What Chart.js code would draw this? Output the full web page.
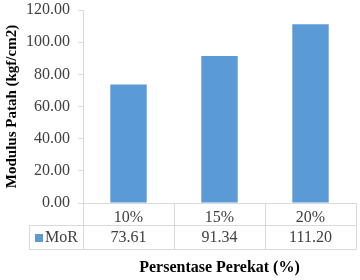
<!DOCTYPE html>
<html>
<head>
<meta charset="utf-8">
<script src="https://cdn.jsdelivr.net/npm/chart.js@4/dist/chart.umd.min.js"></script>
<style>
  html, body { margin: 0; padding: 0; background: #fff; }
  #wrap { width: 360px; height: 280px; position: relative; }
</style>
</head>
<body>
<div id="wrap"><canvas id="chart"></canvas></div>
<script>
  const categories = ["10%", "15%", "20%"];
  const seriesName = "MoR";
  const morValues = [73.61, 91.34, 111.20];
  const valueLabels = ["73.61", "91.34", "111.20"];

  const BAR_COLOR  = "#5B9BD5";
  const LINE_COLOR = "#D9D9D9";
  const TEXT_COLOR = "#404040";
  const SERIF      = "'Liberation Serif', 'Times New Roman', serif";

  // draws the Excel-like data table under the x axis
  const dataTablePlugin = {
    id: "dataTable",
    afterDraw(chart) {
      const ctx = chart.ctx;
      const area = chart.chartArea;
      const xScale = chart.scales.x;
      const catW = (area.right - area.left) / categories.length;
      const top = area.bottom;
      const mid = top + 22;
      const bottom = mid + 24;
      const legendLeft = 29.5;

      ctx.save();
      ctx.strokeStyle = LINE_COLOR;
      ctx.lineWidth = 1;
      ctx.beginPath();
      ctx.moveTo(legendLeft, Math.round(mid) + 0.5);
      ctx.lineTo(area.right, Math.round(mid) + 0.5);
      ctx.moveTo(legendLeft, Math.round(bottom) + 0.5);
      ctx.lineTo(area.right, Math.round(bottom) + 0.5);
      ctx.moveTo(legendLeft, Math.round(mid) + 0.5);
      ctx.lineTo(legendLeft, Math.round(bottom) + 0.5);
      for (let i = 0; i <= categories.length; i++) {
        const x = Math.round(area.left + i * catW) + 0.5;
        ctx.moveTo(x, top);
        ctx.lineTo(x, Math.round(bottom) + 0.5);
      }
      ctx.stroke();

      const rowY = (mid + bottom) / 2 + 1;
      ctx.fillStyle = BAR_COLOR;
      ctx.fillRect(35, rowY - 4, 8, 8);

      ctx.fillStyle = TEXT_COLOR;
      ctx.font = "16px " + SERIF;
      ctx.textBaseline = "middle";
      ctx.textAlign = "left";
      ctx.fillText(seriesName, 45, rowY);
      ctx.textAlign = "center";
      valueLabels.forEach((v, i) => {
        ctx.fillText(v, xScale.getPixelForValue(i), rowY);
      });
      ctx.restore();
    },
  };

  new Chart(document.getElementById("chart"), {
    type: "bar",
    data: {
      labels: categories,
      datasets: [
        {
          label: seriesName,
          data: morValues,
          backgroundColor: BAR_COLOR,
          borderWidth: 0,
          categoryPercentage: 1,
          barPercentage: 0.4,
        },
      ],
    },
    options: {
      responsive: true,
      maintainAspectRatio: false,
      devicePixelRatio: 1,
      animation: false,
      layout: { padding: { top: 10, right: 4, left: 0, bottom: 0 } },
      plugins: {
        legend: { display: false },
        tooltip: { enabled: false },
      },
      scales: {
        x: {
          grid: { display: false },
          border: { color: LINE_COLOR },
          ticks: {
            color: TEXT_COLOR,
            padding: -3,
            font: { family: SERIF, size: 16 },
          },
          title: {
            display: true,
            text: "Persentase Perekat (%)",
            color: "#000",
            font: { family: SERIF, size: 16, weight: "bold" },
            padding: { top: 0, bottom: 3 },
          },
          afterFit(scale) { scale.height = 77; },
        },
        y: {
          min: 0,
          max: 120,
          grid: {
            drawOnChartArea: false,
            drawTicks: true,
            tickLength: 5,
            color: LINE_COLOR,
          },
          border: { color: LINE_COLOR },
          ticks: {
            stepSize: 20,
            padding: 8,
            color: TEXT_COLOR,
            font: { family: SERIF, size: 16 },
            callback: (v) => Number(v).toFixed(2),
          },
          title: {
            display: true,
            text: "Modulus Patah (kgf/cm2)",
            color: "#000",
            font: { family: SERIF, size: 15, weight: "bold" },
            padding: { top: 3, bottom: 0 },
          },
          afterFit(scale) {
            scale.width = 83;
            scale.paddingTop = 0;
            scale.paddingBottom = 0;
          },
        },
      },
    },
    plugins: [dataTablePlugin],
  });
</script>
</body>
</html>
